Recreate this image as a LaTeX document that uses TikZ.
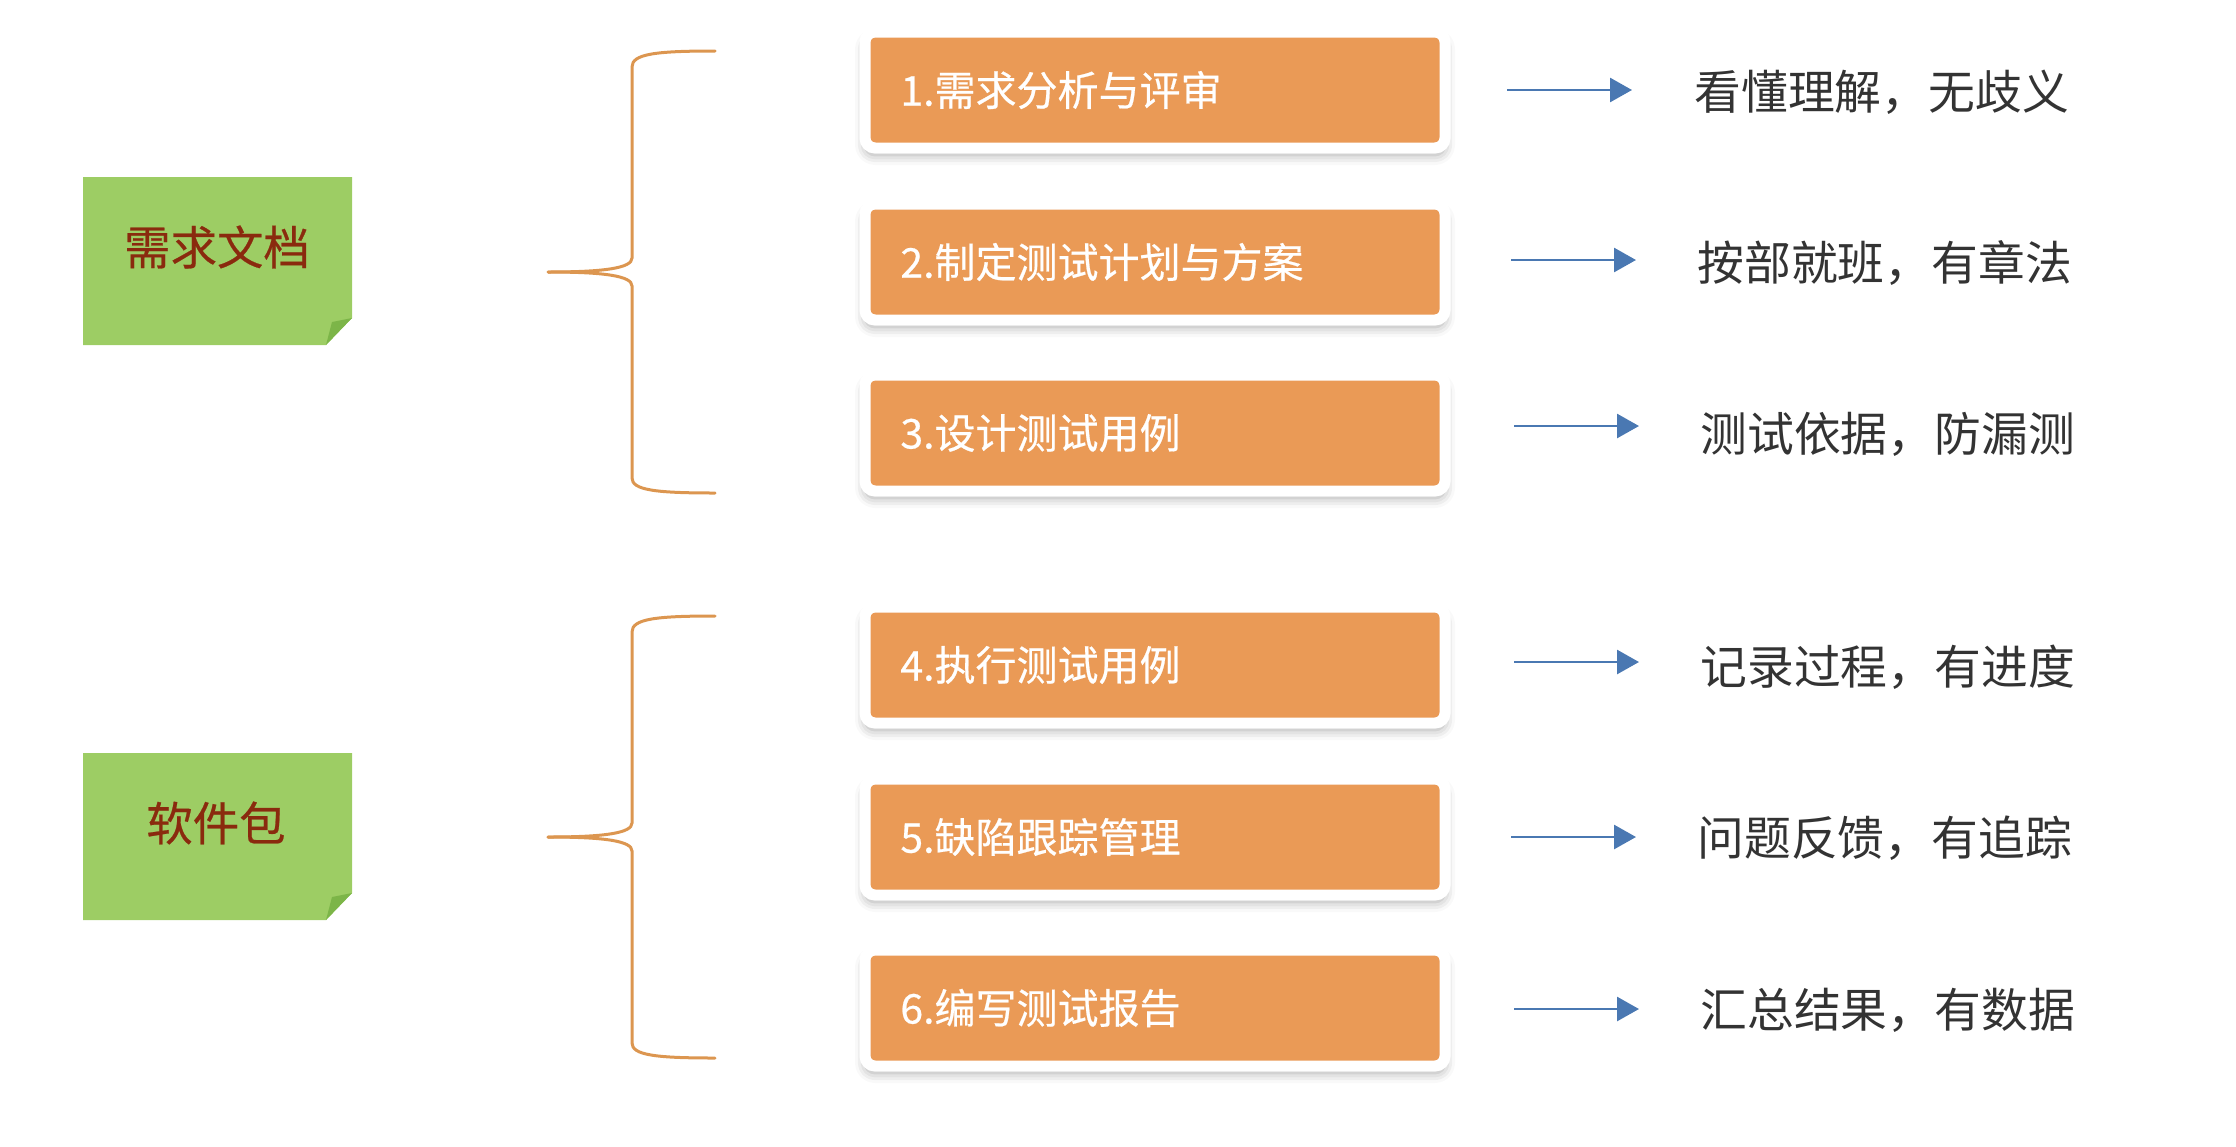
\documentclass[tikz,border=0pt]{standalone}
\usepackage{fontspec}
\newfontfamily\cjk{Noto Sans CJK SC}
\newfontfamily\cjkbold{Noto Sans CJK SC}[FakeBold=0.5]
\usetikzlibrary{arrows.meta,shadows.blur}
\definecolor{notegreen}{HTML}{9DCD64}
\definecolor{folddark}{HTML}{7CB548}
\definecolor{notetext}{HTML}{8A2A0E}
\definecolor{boxorange}{HTML}{EA9A56}
\definecolor{bracecol}{HTML}{DC9650}
\definecolor{arrowblue}{HTML}{4A78B2}
\definecolor{desctext}{HTML}{333333}
\begin{document}
\begin{tikzpicture}[x=0.5pt,y=-0.5pt,
  notebg/.style={fill=notegreen,draw=none},
  notefold/.style={fill=folddark,draw=none},
  notelabel/.style={inner sep=0pt,text=notetext,font=\cjkbold\fontsize{23.2pt}{26pt}\selectfont},
  stepbox/.style={rectangle,rounded corners=5pt,fill=boxorange,draw=white,line width=5.5pt,
    minimum width=290pt,minimum height=58pt,inner sep=0pt,
    blur shadow={shadow xshift=0pt,shadow yshift=-3.5pt,shadow opacity=35,shadow blur radius=5pt}},
  steptext/.style={inner sep=0pt,anchor=west,text=white,font=\cjkbold\fontsize{20.5pt}{24pt}\selectfont},
  desc/.style={inner sep=0pt,anchor=west,text=desctext,font=\cjk\fontsize{23.4pt}{26pt}\selectfont},
  bracestyle/.style={draw=bracecol,line width=1.5pt,line cap=round},
  conn/.style={draw=arrowblue,line width=1.4pt,-{Triangle[length=11pt,width=12pt]}}
]
\useasboundingbox (0,0) rectangle (2236,1146);

% green notes
\fill[notebg] (83,177) -- (352,177) -- (352,318) -- (326,345) -- (83,345) -- cycle;
\fill[notefold] (352,318) -- (326,345) -- (332,322) -- cycle;
\node[notelabel] (doc) at (217,247) {需求文档};

\fill[notebg] (83,753) -- (352,753) -- (352,893) -- (326,920) -- (83,920) -- cycle;
\fill[notefold] (352,893) -- (326,920) -- (332,897) -- cycle;
\node[notelabel] (pkg) at (216,823) {软件包};

% braces
\coordinate (tipA) at (548,272);
\coordinate (tipB) at (548,837);
\draw[bracestyle] (715,51) .. controls (655,51) and (632,54) .. (632,67) -- (632,258)
   .. controls (632,268) and (605,272) .. (tipA);
\draw[bracestyle] (tipA) .. controls (605,272) and (632,276) .. (632,286) -- (632,478)
   .. controls (632,490) and (655,493) .. (715,493);
\draw[bracestyle] (715,616) .. controls (655,616) and (632,619) .. (632,632) -- (632,823)
   .. controls (632,833) and (605,837) .. (tipB);
\draw[bracestyle] (tipB) .. controls (605,837) and (632,841) .. (632,851) -- (632,1043)
   .. controls (632,1055) and (655,1058) .. (715,1058);

% step boxes
\foreach \i/\y/\lbl in {1/90/{1.需求分析与评审},2/262/{2.制定测试计划与方案},3/433/{3.设计测试用例},
                      4/665/{4.执行测试用例},5/837/{5.缺陷跟踪管理},6/1008/{6.编写测试报告}}{
  \node[stepbox] (b\i) at (1155,\y) {};
  \node[steptext] (bt\i) at (900,\y) {\lbl};
}

% descriptions
\node[desc] (d1) at (1694,92) {看懂理解，无歧义};
\node[desc] (d2) at (1697,263) {按部就班，有章法};
\node[desc] (d3) at (1700,434) {测试依据，防漏测};
\node[desc] (d4) at (1700,667) {记录过程，有进度};
\node[desc] (d5) at (1697,838) {问题反馈，有追踪};
\node[desc] (d6) at (1700,1010) {汇总结果，有数据};

% arrows
\coordinate (s1) at (1507,90);  \coordinate (e1) at (1632,90);
\coordinate (s2) at (1511,260); \coordinate (e2) at (1636,260);
\coordinate (s3) at (1514,426); \coordinate (e3) at (1639,426);
\coordinate (s4) at (1514,662); \coordinate (e4) at (1639,662);
\coordinate (s5) at (1511,837); \coordinate (e5) at (1636,837);
\coordinate (s6) at (1514,1009);\coordinate (e6) at (1639,1009);
\foreach \i in {1,...,6}{ \draw[conn] (s\i) -- (e\i); }
\end{tikzpicture}
\end{document}
